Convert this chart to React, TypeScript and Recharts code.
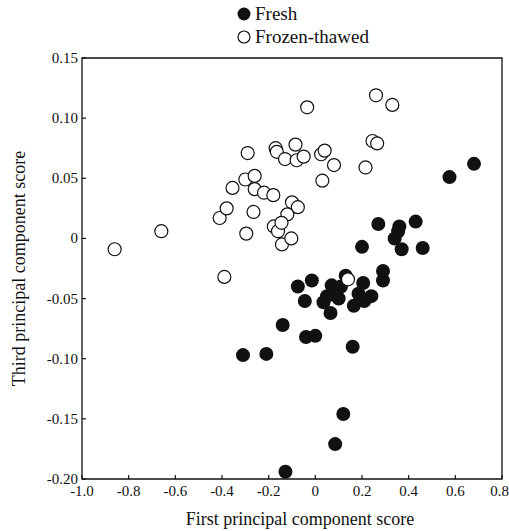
import React from 'react';
import { Legend, ReferenceArea, Scatter, ScatterChart, XAxis, YAxis } from 'recharts';

// first / third principal component scores
const FRESH_X = [
  0.68, 0.575, 0.27, 0.36, 0.355, 0.43, 0.34, 0.37, 0.46, 0.2, 0.29, 0.29,
  -0.075, -0.015, -0.045, 0.07, 0.11, 0.13, 0.205, 0.185, 0.24, 0.21, 0.165,
  0.035, 0.065, 0.085, 0.05, 0.1, -0.14, -0.04, 0.0, 0.16, -0.31, -0.21,
  0.12, 0.085, -0.128,
];
const FRESH_Y = [
  0.062, 0.051, 0.012, 0.01, 0.006, 0.014, 0.0, -0.009, -0.008, -0.007, -0.027, -0.035,
  -0.04, -0.035, -0.052, -0.039, -0.04, -0.031, -0.037, -0.046, -0.048, -0.052, -0.056,
  -0.053, -0.062, -0.047, -0.048, -0.05, -0.072, -0.082, -0.081, -0.09, -0.097, -0.096,
  -0.146, -0.171, -0.194,
];

const FROZEN_X = [
  -0.86, -0.66, -0.41, -0.38, -0.355, -0.39, -0.035, -0.29, -0.17, -0.165,
  -0.13, -0.085, -0.08, -0.05, 0.025, 0.04, 0.08, 0.03, -0.3, -0.26,
  -0.26, -0.22, -0.18, -0.265, -0.1, -0.075, -0.12, -0.178, -0.16, -0.145,
  -0.143, -0.103, -0.296, 0.26, 0.33, 0.245, 0.265, 0.215, 0.14,
];
const FROZEN_Y = [
  -0.009, 0.006, 0.017, 0.025, 0.042, -0.032, 0.109, 0.071, 0.075, 0.072,
  0.066, 0.078, 0.065, 0.068, 0.07, 0.073, 0.061, 0.048, 0.049, 0.052,
  0.041, 0.038, 0.036, 0.022, 0.03, 0.026, 0.02, 0.01, 0.006, 0.013,
  -0.005, 0.0, 0.004, 0.119, 0.111, 0.081, 0.079, 0.059, -0.034,
];

const X_TICKS = [-1.0, -0.8, -0.6, -0.4, -0.2, 0, 0.2, 0.4, 0.6, 0.8];
const X_TICK_LABELS = ['-1.0', '-0.8', '-0.6', '-0.4', '-0.2', '0', '0.2', '0.4', '0.6', '0.8'];
const Y_TICKS = [0.15, 0.1, 0.05, 0, -0.05, -0.1, -0.15, -0.2];
const Y_TICK_LABELS = ['0.15', '0.10', '0.05', '0', '-0.05', '-0.10', '-0.15', '-0.20'];

const FONT = '"Liberation Serif", "DejaVu Serif", serif';
const INK = '#111';

const freshData = FRESH_X.map((x, i) => ({ x, y: FRESH_Y[i] }));
const frozenData = FROZEN_X.map((x, i) => ({ x, y: FROZEN_Y[i] }));

const XTick = (props: any) => {
  const { x, y, index } = props;
  const i = X_TICKS.indexOf(props.payload.value);
  const k = i >= 0 ? i : index;
  const last = k === X_TICKS.length - 1;
  return (
    <g>
      <line x1={x} x2={x} y1={y} y2={y - 4} stroke={INK} strokeWidth={1.2} />
      <text
        x={last ? x + 7 : x}
        y={y + 17}
        textAnchor={last ? 'end' : 'middle'}
        fontSize={15}
        fill={INK}
        fontFamily={FONT}
      >
        {X_TICK_LABELS[k]}
      </text>
    </g>
  );
};

const YTick = (props: any) => {
  const { x, y, index } = props;
  const i = Y_TICKS.indexOf(props.payload.value);
  const label = Y_TICK_LABELS[i >= 0 ? i : index];
  return (
    <g>
      <line x1={x} x2={x + 4} y1={y} y2={y} stroke={INK} strokeWidth={1.2} />
      <text x={x - 4} y={y + 5} textAnchor="end" fontSize={15} fill={INK} fontFamily={FONT}>
        {label}
      </text>
    </g>
  );
};

const FreshDot = (props: any) => <circle cx={props.cx} cy={props.cy} r={7} fill={INK} />;
const FrozenDot = (props: any) => (
  <circle cx={props.cx} cy={props.cy} r={6.5} fill="#fff" stroke={INK} strokeWidth={1.2} />
);

const LegendBox = () => (
  <div style={{ fontFamily: FONT, fontSize: 19, lineHeight: '23px', color: INK }}>
    <div style={{ display: 'flex', alignItems: 'center' }}>
      <svg width={16} height={16} style={{ marginRight: 3 }}>
        <circle cx={8} cy={8} r={6.5} fill={INK} />
      </svg>
      <span>Fresh</span>
    </div>
    <div style={{ display: 'flex', alignItems: 'center' }}>
      <svg width={16} height={16} style={{ marginRight: 3 }}>
        <circle cx={8} cy={8} r={6} fill="#fff" stroke={INK} strokeWidth={1.2} />
      </svg>
      <span>Frozen-thawed</span>
    </div>
  </div>
);

export default function App() {
  return (
    <div style={{ position: 'absolute', left: 0, top: 0, width: 509, height: 531, background: '#fff' }}>
      <ScatterChart width={509} height={531} margin={{ top: 58, right: 7, bottom: 0, left: 8 }}>
        <XAxis
          type="number"
          dataKey="x"
          domain={[-1, 0.8]}
          ticks={X_TICKS}
          interval={0}
          height={52}
          axisLine={false}
          tickLine={false}
          tickSize={0}
          tickMargin={0}
          tick={<XTick />}
          allowDataOverflow
          label={{
            value: 'First principal component score',
            position: 'insideBottom',
            offset: 6,
            dx: 8,
            fontSize: 18,
            fill: INK,
            fontFamily: FONT,
          }}
        />
        <YAxis
          type="number"
          dataKey="y"
          domain={[-0.2, 0.15]}
          ticks={Y_TICKS}
          interval={0}
          width={74}
          axisLine={false}
          tickLine={false}
          tickSize={0}
          tickMargin={0}
          tick={<YTick />}
          allowDataOverflow
          label={{
            value: 'Third principal component score',
            angle: -90,
            position: 'insideLeft',
            offset: 11,
            textAnchor: 'middle',
            fontSize: 18,
            fill: INK,
            fontFamily: FONT,
          }}
        />
        <ReferenceArea x1={-1} x2={0.8} y1={-0.2} y2={0.15} fill="none" stroke={INK} strokeWidth={1.3} />
        <Legend
          layout="vertical"
          align="center"
          verticalAlign="middle"
          content={<LegendBox />}
          wrapperStyle={{ top: 2, left: 236, width: 'auto' }}
        />
        <Scatter name="Fresh" data={freshData} shape={<FreshDot />} isAnimationActive={false} />
        <Scatter name="Frozen-thawed" data={frozenData} shape={<FrozenDot />} isAnimationActive={false} />
      </ScatterChart>
    </div>
  );
}
